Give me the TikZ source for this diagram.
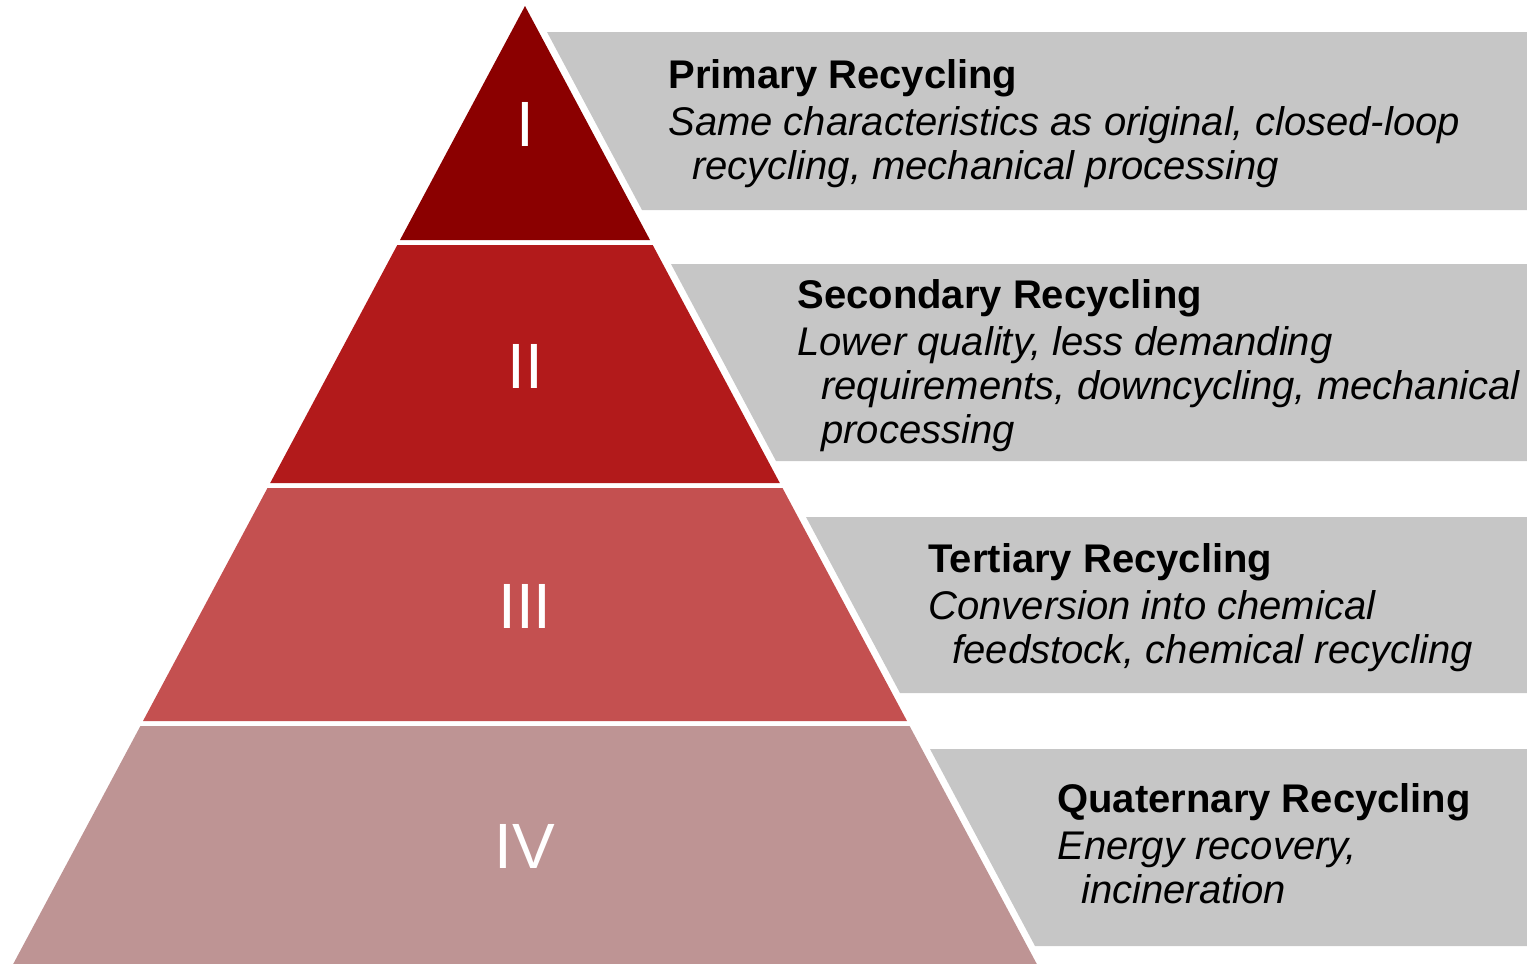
\documentclass[tikz,border=0pt]{standalone}
\usepackage{fontspec}
\setmainfont{Liberation Sans}

\definecolor{levelone}{RGB}{139,0,0}
\definecolor{leveltwo}{RGB}{178,26,27}
\definecolor{levelthree}{RGB}{196,80,80}
\definecolor{levelfour}{RGB}{190,148,148}
\definecolor{cardgray}{RGB}{198,198,198}

\tikzset{
  card/.style={fill=cardgray},
  numeral/.style={text=white, inner sep=0pt, font=\fontsize{32}{32}\selectfont},
  info/.style={anchor=base west, inner sep=0pt, font=\fontsize{20}{22}\selectfont},
}

\begin{document}
\begin{tikzpicture}[x=0.5pt,y=-0.5pt]
  \useasboundingbox (0,0) rectangle (1527,964);

  % grey cards behind the text
  \path[card] (547,32)  -- (1527,32)  -- (1527,210) -- (642,210) -- cycle;
  \path[card] (671,264) -- (1527,264) -- (1527,461) -- (776,461) -- cycle;
  \path[card] (806,517) -- (1527,517) -- (1527,693) -- (900,693) -- cycle;
  \path[card] (930,749) -- (1527,749) -- (1527,946) -- (1035,946) -- cycle;

  % pyramid levels
  \fill[levelone]   (525,6) -- (650,240) -- (400,240) -- cycle;
  \fill[leveltwo]   (397.3,245) -- (652.7,245) -- (779.8,483) -- (270.2,483) -- cycle;
  \fill[levelthree] (267.5,488) -- (782.5,488) -- (907,721) -- (143,721) -- cycle;
  \fill[levelfour]  (140.4,726) -- (909.6,726) -- (1036.8,964) -- (13.2,964) -- cycle;

  \begin{scope}[every node/.style={numeral}]
    \node (n1) at (525,124) {I};
    \node (n2) at (525,366) {II};
    \node (n3) at (525,606) {III};
    \node (n4) at (525,846) {IV};
  \end{scope}

  \begin{scope}[every node/.style={info}]
    \node (t1) at (668,88) {\begin{tabular}[t]{@{}l@{}}
        \textbf{Primary Recycling}\\[1.5pt]
        \textit{Same characteristics as original, closed-loop}\\
        \hspace*{12pt}\textit{recycling, mechanical processing}
      \end{tabular}};
    \node (t2) at (797,308) {\begin{tabular}[t]{@{}l@{}}
        \textbf{Secondary Recycling}\\[1.5pt]
        \textit{Lower quality, less demanding}\\
        \hspace*{12pt}\textit{requirements, downcycling, mechanical}\\
        \hspace*{12pt}\textit{processing}
      \end{tabular}};
    \node (t3) at (928,572) {\begin{tabular}[t]{@{}l@{}}
        \textbf{Tertiary Recycling}\\[1.5pt]
        \textit{Conversion into chemical}\\
        \hspace*{12pt}\textit{feedstock, chemical recycling}
      \end{tabular}};
    \node (t4) at (1057,812) {\begin{tabular}[t]{@{}l@{}}
        \textbf{Quaternary Recycling}\\[1.5pt]
        \textit{Energy recovery,}\\
        \hspace*{12pt}\textit{incineration}
      \end{tabular}};
  \end{scope}

\end{tikzpicture}
\end{document}
